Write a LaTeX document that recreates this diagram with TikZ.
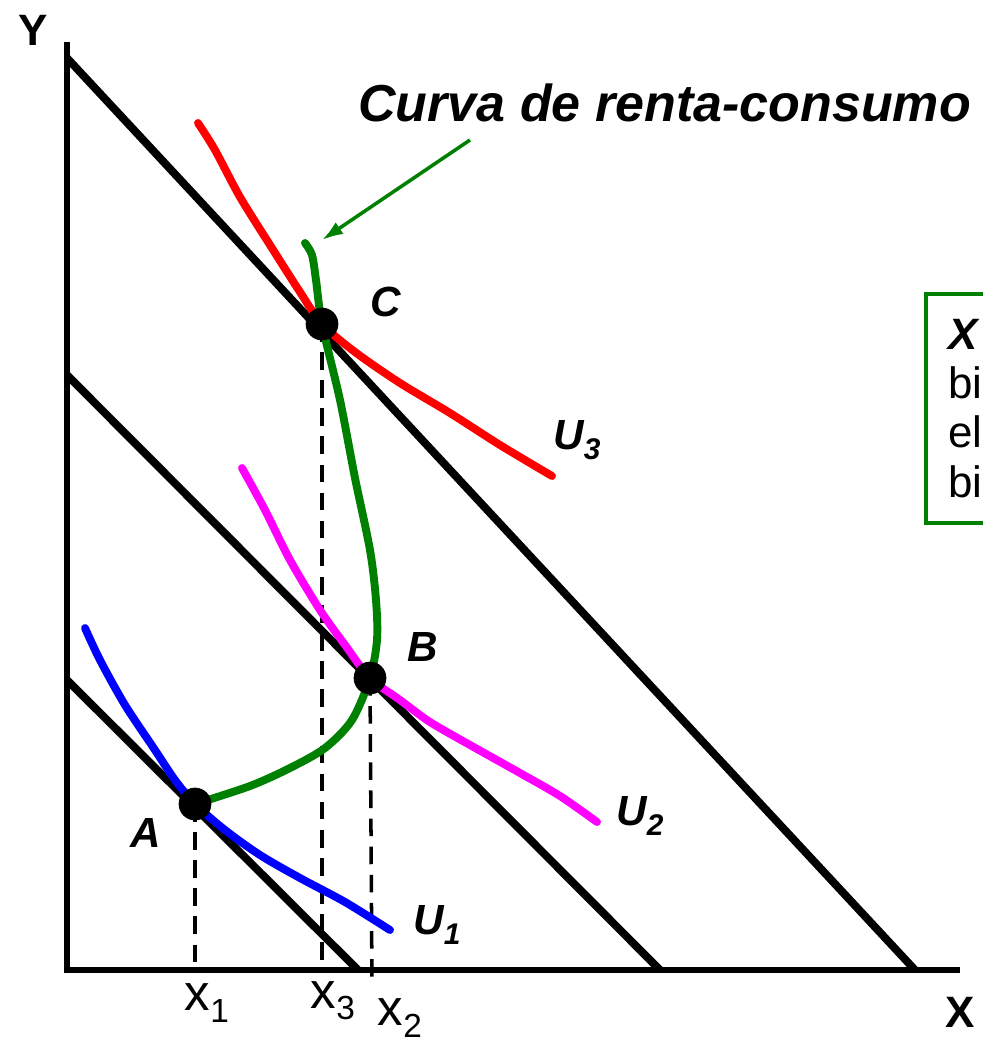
\documentclass[tikz,border=0pt]{standalone}
\usepackage{fontspec}
\setmainfont{Liberation Sans}
\usepackage{tikz}
\usetikzlibrary{positioning}
\usetikzlibrary{calc,arrows.meta}
\definecolor{iccgreen}{RGB}{0,128,0}
\definecolor{ucolor2}{RGB}{255,0,255}
\definecolor{ucolor1}{RGB}{0,0,255}
\definecolor{ucolor3}{RGB}{255,0,0}
\newcommand{\lowsub}[2][19]{\raisebox{-0.42ex}{\fontsize{#1}{#1}\selectfont #2}}
\tikzset{
	auto,
	semithick,
	point/.style = {circle, draw=black, fill=black, minimum size=0.64cm,
	 inner sep=0pt, node contents={}},
	axis/.style = {line width=3pt},
	budget/.style = {line width=4.5pt},
	indiff/.style = {line width=4.5pt, line cap=round, line join=round},
	proj/.style = {line width=2pt, dash pattern=on 10pt off 6pt},
	el/.style = {inner sep=2pt, font=\fontsize{24}{24}\selectfont\bfseries\itshape},
	tick/.style = {inner sep=0pt, font=\fontsize{29}{29}\selectfont},
}

\begin{document}
\begin{tikzpicture}[x=0.02cm, y=-0.02cm]
	\clip (0,0) rectangle (983,1042);
	% axes
	\coordinate (O) at (67,970);
	\coordinate (ytop) at (67,42);
	\coordinate (xend) at (960,970);
	\draw[axis] (ytop) -- (O) -- (xend);
	\node (ylab) [inner sep=0pt, font=\fontsize{25}{25}\selectfont\bfseries] at (33,30) {Y};
	\node (xlab) [inner sep=0pt, font=\fontsize{25}{25}\selectfont\bfseries] at (960,1012) {X};
	% budget lines
	\coordinate (r1y) at (67,680);  \coordinate (r1x) at (358,970);
	\coordinate (r2y) at (67,375);  \coordinate (r2x) at (660,970);
	\coordinate (r3y) at (67,58);   \coordinate (r3x) at (915,970);
	\path[budget] (r1y) edge (r1x);
	\path[budget] (r2y) edge (r2x);
	\path[budget] (r3y) edge (r3x);
	% equilibria
	\coordinate (pA) at (195,804);
	\coordinate (pB) at (370,678);
	\coordinate (pC) at (322,324);
	% projections
	\coordinate (x1) at (195,970);
	\coordinate (x3) at (322,970);
	\coordinate (x2) at (372,985);
	\draw[proj] (pA) -- (x1);
	\draw[proj] (pC) -- (x3);
	\draw[proj] (pB) -- (x2);
	\node (x1lab) [tick] at (207,1003) {x\lowsub{1}};
	\node (x3lab) [tick] at (333,1001) {x\lowsub{3}};
	\node (x2lab) [tick] at (400,1018) {x\lowsub{2}};
	% indifference curves
	\coordinate (u1s) at (85,628);  \coordinate (u1e) at (390,930);
	\coordinate (u2s) at (242,468); \coordinate (u2e) at (597,822);
	\coordinate (u3s) at (198,123); \coordinate (u3e) at (552,476);
	\draw[indiff, ucolor1] plot[smooth] coordinates {(u1s) (100,660) (125,705) (155,750) (175,780) (pA) (225,830) (260,855) (300,878) (345,902) (u1e)};
	\draw[indiff, ucolor2] plot[smooth] coordinates {(u2s) (265,510) (290,560) (320,610) (345,645) (pB) (400,700) (430,722) (470,745) (520,773) (560,796) (u2e)};
	\draw[indiff, ucolor3] plot[smooth] coordinates {(u3s) (215,150) (240,197) (270,245) (300,292) (pC) (355,352) (400,383) (450,413) (500,445) (u3e)};
	\node (u1lab) [el] at (437,925) {U\lowsub[17]{1}};
	\node (u2lab) [el] at (640,816) {U\lowsub[17]{2}};
	\node (u3lab) [el] at (577,440) {U\lowsub[17]{3}};
	% income-consumption curve
	\coordinate (iccend) at (305,243);
	\draw[indiff, iccgreen] plot[smooth] coordinates {(pA) (250,786) (290,768) (325,748) (352,720) (pB) (377,640) (376,600) (370,550) (355,478) (340,400) (pC) (316,280) (312,255) (iccend)};
	\node (title) [inner sep=0pt, anchor=west, font=\fontsize{29.6}{29.6}\selectfont\bfseries\itshape] at (358,103) {Curva de renta-consumo};
	\coordinate (arrtail) at (470,140);
	\coordinate (arrtip) at (322,240);
	\draw[-{Latex[length=12pt, width=8pt]}, iccgreen, line width=2pt] (arrtail) -- (arrtip);
	% points
	\node (A) at (pA) [label = {[el, label distance=9pt]200:A}, point];
	\node (B) at (pB) [label = {[el, label distance=11pt]20:B}, point];
	\node (C) at (pC) [label = {[el, label distance=16pt]4:C}, point];
	% note box
	\node (note) [draw=iccgreen, line width=2.3pt, anchor=north west, minimum height=4.58cm,
	 text width=4cm, inner xsep=0.45cm, align=left, font=\fontsize{25}{28}\selectfont] at (924,292)
	 {\textbf{\textit{X}}\\ bien\\ el\\ bien};
\end{tikzpicture}
\end{document}
